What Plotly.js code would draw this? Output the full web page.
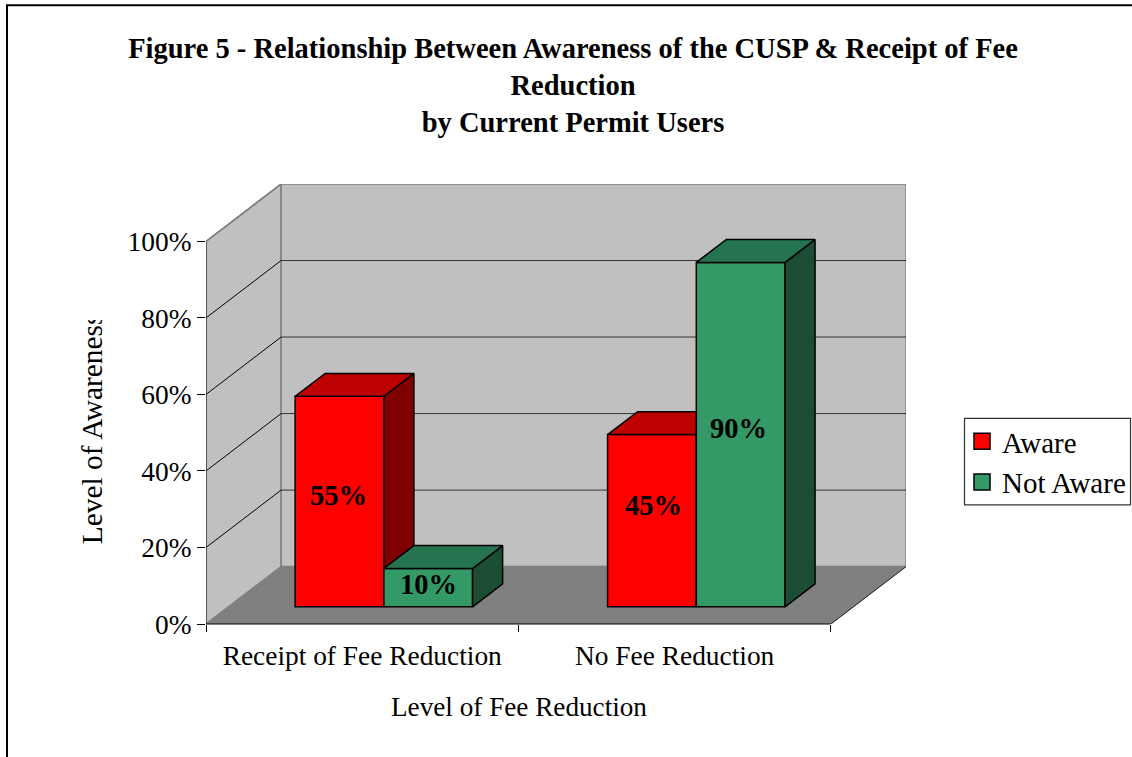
<!DOCTYPE html>
<html><head><meta charset="utf-8">
<script src="https://cdn.plot.ly/plotly-3.0.1.min.js"></script>
<style>html,body{margin:0;padding:0;background:#fff}#wrap{position:relative;width:1132px;height:757px}#clip{position:absolute;left:78px;top:300px;width:30px;height:20px;background:#fff}</style>
</head><body><div id="wrap"><div id="chart" style="width:1132px;height:757px"></div><div id="clip"></div></div>
<script>
// --- data ---
const categories = ['Receipt of Fee Reduction', 'No Fee Reduction'];
const awareValues = [55, 45];
const notAwareValues = [10, 90];
const awareLabels = ['55%', '45%'];
const notAwareLabels = ['10%', '90%'];
const yTickVals = [0, 20, 40, 60, 80, 100];
const yTickText = ['0%', '20%', '40%', '60%', '80%', '100%'];
const titleLines = ['Figure 5 - Relationship Between Awareness of the CUSP &amp; Receipt of Fee', 'Reduction', 'by Current Permit Users'];

// --- oblique projection, in axis units ---
const depthX = 75 / 312, depthY = 15;
const xMax = 2 + depthX, yMax = 100 + depthY;
const barFrontDepth = 0.3, barDepth = 0.4;
const barW = 88.6 / 312, barStart = 89 / 312;
const FONT = 'Liberation Serif';
const base = barFrontDepth * depthY;
const bdx = barDepth * depthX, bdy = barDepth * depthY;

const L = 206, R = 906, T = 183.7, B = 623.7;
const px = v => (v - L) / (R - L), py = v => (B - v) / (B - T);

function series(vals, name, slot, fillFront, fillTop, fillSide, xa, ya) {
  const xs = vals.map((_, i) => i + barStart + slot * barW);
  const out = [{
    type: 'bar', x: xs, y: vals, base: vals.map(() => base), width: vals.map(() => barW),
    offset: 0, marker: {color: fillFront, line: {color: '#000', width: 1.5}}, showlegend: false,
    xaxis: xa, yaxis: ya, name, hoverinfo: 'skip'
  }];
  vals.forEach((v, i) => {
    const xl = xs[i], xr = xl + barW, top = base + v;
    out.push({type: 'scatter', mode: 'lines', fill: 'toself', fillcolor: fillSide, line: {color: '#000', width: 1.5},
      x: [xr, xr + bdx, xr + bdx, xr, xr], y: [base, base + bdy, top + bdy, top, base], xaxis: xa, yaxis: ya, showlegend: false, hoverinfo: 'skip'});
    out.push({type: 'scatter', mode: 'lines', fill: 'toself', fillcolor: fillTop, line: {color: '#000', width: 1.5},
      x: [xl, xl + bdx, xr + bdx, xr, xl], y: [top, top + bdy, top + bdy, top, top], xaxis: xa, yaxis: ya, showlegend: false, hoverinfo: 'skip'});
  });
  out.push({type: 'scatter', mode: 'markers', x: [null], y: [null], name, legendgroup: name, xaxis: xa, yaxis: ya,
    marker: {symbol: 'square', size: 16, color: fillFront, line: {color: '#000', width: 1.5}}});
  return out;
}

const traces = [
  ...series(awareValues, 'Aware', 0, '#FF0000', '#BF0000', '#800000', 'x', 'y'),
  ...series(notAwareValues, 'Not Aware', 1, '#339966', '#267350', '#1A4D33', 'x2', 'y2')
];

// --- chart box: walls, floor, gridlines ---
const poly = (pts, fill, lineColor, w) => ({type: 'path', xref: 'x', yref: 'y', layer: 'below',
  path: 'M' + pts.map(p => p.join(',')).join('L') + 'Z', fillcolor: fill, line: {color: lineColor, width: w}});
const seg = (x0, y0, x1, y1, color, w) => ({type: 'line', xref: 'x', yref: 'y', layer: 'below', x0, y0, x1, y1, line: {color, width: w}});
const shapes = [
  poly([[0, 0], [depthX, depthY], [depthX, yMax], [0, 100]], '#C0C0C0', '#808080', 1.5),
  poly([[depthX, depthY], [xMax, depthY], [xMax, yMax], [depthX, yMax]], '#C0C0C0', '#808080', 1.5),
  poly([[0, 0], [2, 0], [xMax, depthY], [depthX, depthY]], '#808080', '#808080', 1)
];
yTickVals.slice(1, 5).forEach(v => {
  shapes.push(seg(0, v, depthX, v + depthY, '#000', 1));
  shapes.push(seg(depthX, v + depthY, xMax, v + depthY, '#333', 1));
});
shapes.push(seg(0, 100, depthX, yMax, '#808080', 1.5));
shapes.push(seg(2, 0, xMax, depthY, '#222', 1));
shapes.push({type: 'line', xref: 'x', yref: 'paper', layer: 'above', x0: 0, x1: 0, y0: py(623.7), y1: py(241.7), line: {color: '#333', width: 1.2}});
shapes.push({type: 'line', xref: 'paper', yref: 'paper', layer: 'above', x0: px(206), x1: px(830), y0: py(623.7), y1: py(623.7), line: {color: '#000', width: 1.2}});
// figure frame
shapes.push({type: 'line', xref: 'paper', yref: 'paper', x0: px(7), x1: px(7), y0: py(5), y1: py(757), line: {color: '#000', width: 2}});
shapes.push({type: 'line', xref: 'paper', yref: 'paper', x0: px(6), x1: px(1132), y0: py(5), y1: py(5), line: {color: '#000', width: 2}});
// legend frame
shapes.push({type: 'rect', xref: 'paper', yref: 'paper', x0: px(964.5), x1: px(1130.5), y0: py(418), y1: py(504.5), fillcolor: '#fff', line: {color: '#333', width: 1.2}});

// --- data labels, axis titles ---
const labelLift = [[1.5, 4.1], [0.9, 1.6]];
const labelShift = [[-1, 2], [0, -2]];
const annotations = [];
[[awareValues, awareLabels], [notAwareValues, notAwareLabels]].forEach(([vals, labs], s) => {
  vals.forEach((v, i) => annotations.push({
    xref: 'x', yref: 'y', x: i + barStart + (s + 0.5) * barW, y: base + v / 2 + labelLift[s][i], xshift: labelShift[s][i],
    xanchor: 'center', yanchor: 'middle', text: labs[i], showarrow: false, font: {family: FONT, size: 28.5, color: '#000', weight: 700}
  }));
});
annotations.push({xref: 'paper', yref: 'paper', x: px(519), y: py(707), xanchor: 'center', yanchor: 'middle', text: 'Level of Fee Reduction', showarrow: false,
  font: {family: FONT, size: 27.2, color: '#000'}});
annotations.push({xref: 'paper', yref: 'paper', x: px(91.5), y: py(428.5), xanchor: 'center', yanchor: 'middle', text: 'Level of Awareness', textangle: -90, showarrow: false,
  font: {family: FONT, size: 29.4, color: '#000'}});

const layout = {
  width: 1132, height: 757, paper_bgcolor: '#fff', plot_bgcolor: 'rgba(0,0,0,0)',
  margin: {l: L, r: 1132 - R, t: T, b: 757 - B, pad: 0},
  barmode: 'overlay', dragmode: false, hovermode: false,
  title: {text: titleLines.join('<br>'),
    x: 573 / 1132, xanchor: 'center', y: 0.924, yanchor: 'top',
    font: {family: FONT, size: 28.5, color: '#000', weight: 700}},
  font: {family: FONT, color: '#000'},
  xaxis: {range: [0, xMax], tickmode: 'array', tickvals: [0.5, 1.5], ticktext: categories, ticklen: 0, ticklabelstandoff: 13, showgrid: false, zeroline: false, showline: false,
    tickfont: {family: FONT, size: 27.4, color: '#000'},
    minor: {tickmode: 'array', tickvals: [0, 1, 2], ticks: 'outside', ticklen: 7, tickcolor: '#000', tickwidth: 1, showgrid: false}},
  yaxis: {range: [0, yMax], tickmode: 'array', tickvals: yTickVals, ticktext: yTickText, ticks: 'outside', ticklen: 8, tickcolor: '#000', tickwidth: 1,
    showgrid: false, zeroline: false, showline: false, tickfont: {family: FONT, size: 27.4, color: '#000'}},
  xaxis2: {overlaying: 'x', range: [0, xMax], visible: false},
  yaxis2: {overlaying: 'y', range: [0, yMax], visible: false},
  legend: {xref: 'container', yref: 'container', x: 962 / 1132, y: 1 - 416 / 757, xanchor: 'left', yanchor: 'top', bgcolor: 'rgba(0,0,0,0)', borderwidth: 0,
    font: {family: FONT, size: 29, color: '#000'}, tracegroupgap: 9, traceorder: 'normal'},
  shapes, annotations
};
Plotly.newPlot('chart', traces, layout, {displayModeBar: false, staticPlot: true});
</script></body></html>
